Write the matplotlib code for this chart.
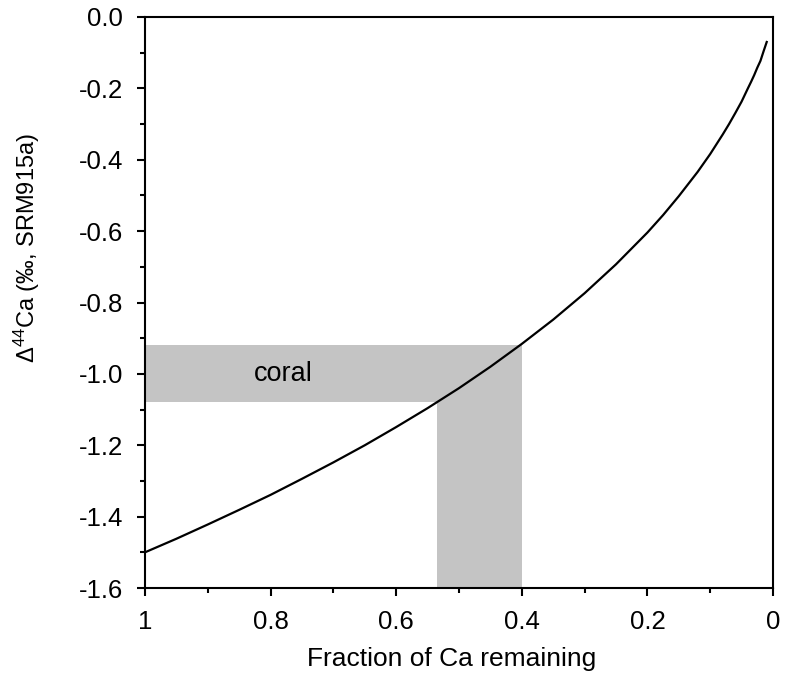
import matplotlib
matplotlib.use("Agg")
import matplotlib.pyplot as plt
from matplotlib.ticker import FixedLocator, FixedFormatter, MultipleLocator

plt.rcParams['font.family'] = ['Liberation Sans', 'DejaVu Sans']
plt.rcParams['mathtext.fontset'] = 'custom'
plt.rcParams['mathtext.rm'] = 'Liberation Sans'
plt.rcParams['mathtext.default'] = 'regular'

# Fraction of Ca remaining and the corresponding Δ44Ca of the accumulated product
fraction = [1.0, 0.95, 0.9, 0.85, 0.8, 0.75, 0.7, 0.65, 0.6, 0.55, 0.5, 0.45,
            0.4, 0.35, 0.3, 0.25, 0.2, 0.175, 0.15, 0.12, 0.1, 0.08, 0.07,
            0.06, 0.05, 0.04, 0.035, 0.03, 0.025, 0.02, 0.015, 0.01]
delta44 = [-1.500, -1.462, -1.422, -1.381, -1.339, -1.294, -1.248, -1.200,
           -1.149, -1.096, -1.040, -0.980, -0.916, -0.848, -0.774, -0.693,
           -0.604, -0.555, -0.502, -0.434, -0.384, -0.329, -0.300, -0.269,
           -0.237, -0.200, -0.182, -0.163, -0.142, -0.123, -0.096, -0.070]

# Coral range: Δ44Ca band and the matching fraction interval
coral_delta = (-1.08, -0.92)
coral_fraction = (0.535, 0.40)

x_ticks = [1.0, 0.8, 0.6, 0.4, 0.2, 0.0]
x_tick_labels = ['1', '0.8', '0.6', '0.4', '0.2', '0']
y_ticks = [0.0, -0.2, -0.4, -0.6, -0.8, -1.0, -1.2, -1.4, -1.6]
y_tick_labels = ['0.0', '-0.2', '-0.4', '-0.6', '-0.8', '-1.0', '-1.2', '-1.4', '-1.6']

FS = 18.5

fig = plt.figure(figsize=(7.92, 6.78), dpi=100)
ax = fig.add_axes([145 / 792, 1 - 588 / 678, (773 - 145) / 792, (588 - 17) / 678])

shade = '#c4c4c4'
# horizontal band for the coral Δ44Ca range
ax.fill_between([1.0, coral_fraction[1]], coral_delta[0], coral_delta[1],
                color=shade, lw=0, zorder=1)
# vertical band for the corresponding fraction range
ax.fill_between([coral_fraction[0], coral_fraction[1]], -1.6, coral_delta[1],
                color=shade, lw=0, zorder=1)

ax.plot(fraction, delta44, color='black', lw=1.6, zorder=3)

ax.text(0.78, -1.0, 'coral', fontsize=19.5, ha='center', va='center', zorder=4)

ax.set_xlim(1.0, 0.0)
ax.set_ylim(-1.6, 0.0)

ax.xaxis.set_major_locator(FixedLocator(x_ticks))
ax.xaxis.set_major_formatter(FixedFormatter(x_tick_labels))
ax.xaxis.set_minor_locator(MultipleLocator(0.1))
ax.yaxis.set_major_locator(FixedLocator(y_ticks))
ax.yaxis.set_major_formatter(FixedFormatter(y_tick_labels))
ax.yaxis.set_minor_locator(MultipleLocator(0.1))

ax.tick_params(axis='both', which='major', direction='out', length=6, width=1.5,
               labelsize=FS, top=False, right=False)
ax.tick_params(axis='both', which='minor', direction='out', length=3.5, width=1.5,
               top=False, right=False)
ax.tick_params(axis='x', which='major', pad=10)
ax.tick_params(axis='y', which='major', pad=10)

for sp in ax.spines.values():
    sp.set_linewidth(1.5)

ax.set_xlabel('Fraction of Ca remaining', fontsize=19)
ax.set_ylabel(r'Δ$^{44}$Ca (‰, SRM915a)', fontsize=17)
ax.xaxis.set_label_coords(0.488, -0.103)
ax.yaxis.set_label_coords(-0.164, 0.595)

fig.savefig('out.png', dpi=100)
